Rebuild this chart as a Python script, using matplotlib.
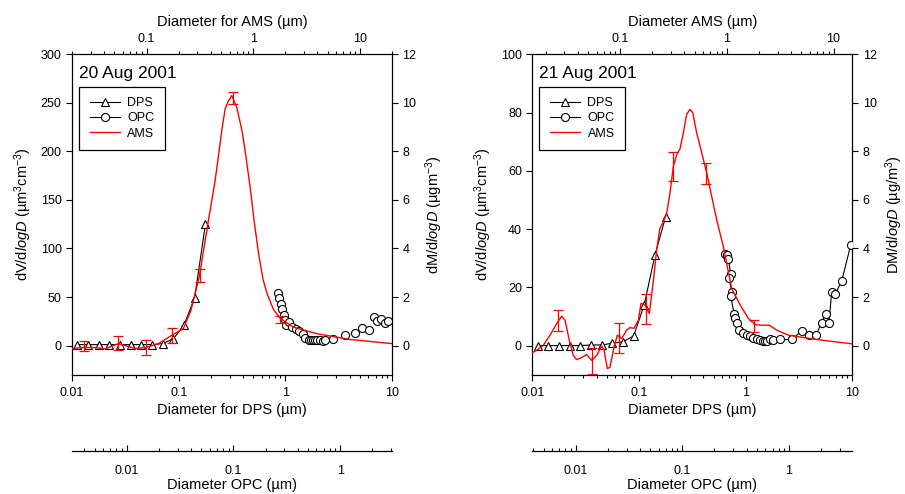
"""Size distributions DPS / OPC / AMS, 20 and 21 Aug 2001"""
import numpy as np
import matplotlib
matplotlib.use("Agg")
import matplotlib.pyplot as plt
from matplotlib.ticker import FuncFormatter, LogLocator, MultipleLocator
from matplotlib.lines import Line2D

plt.rcParams['font.family'] = ['Liberation Sans', 'DejaVu Sans']
plt.rcParams['mathtext.fontset'] = 'custom'
plt.rcParams['mathtext.rm'] = 'Liberation Sans'
plt.rcParams['mathtext.it'] = 'Liberation Sans:italic'

# DPS channels (um) - same for both days
dps_d = [0.0112, 0.0141, 0.0178, 0.0224, 0.0282, 0.0355, 0.0447, 0.0562,
         0.0708, 0.0891, 0.112, 0.141, 0.178]
dps_20 = [1, 1, 1, 1, 1, 1, 1, 1, 2, 7, 21, 49, 125]
dps_21 = [0, 0, 0, 0, 0, 0.2, 0.2, 0.8, 1.3, 3.3, 14, 31, 44.3]

# OPC (um, dV/dlogD)
opc_d_20 = [0.259, 0.268, 0.279, 0.288, 0.299, 0.305, 0.312, 0.335, 0.353, 0.387,
            0.416, 0.448, 0.473, 0.506, 0.530, 0.556, 0.583, 0.614, 0.650, 0.690,
            0.724, 0.855, 1.12, 1.39, 1.62, 1.86, 2.06, 2.21, 2.43, 2.61, 2.79]
opc_20 = [54.5, 49, 43, 38, 32, 26.7, 21, 24, 19, 17.5,
          15, 11.6, 8.2, 5.5, 5.5, 5.5, 5.5, 5.5, 5.5, 4.4,
          6.2, 7.2, 10.6, 13.4, 18, 15.7, 29.4, 25, 27, 23.7, 25]
opc_d_21 = [0.251, 0.264, 0.270, 0.284, 0.274, 0.290, 0.284, 0.305, 0.311, 0.323,
            0.342, 0.373, 0.401, 0.431, 0.462, 0.498, 0.535, 0.566, 0.596, 0.625,
            0.663, 0.703, 0.822, 1.06, 1.31, 1.55, 1.79, 2.02, 2.22, 2.37,
            2.51, 2.70, 3.12, 3.79]
opc_21 = [31.5, 31.1, 29.7, 24.6, 23.1, 18.5, 17.1, 11, 9.5, 7.8,
          5.3, 4.3, 3.8, 3.2, 2.6, 2.3, 1.8, 1.6, 1.5, 1.6,
          2.4, 1.8, 2.1, 2.1, 5.0, 3.8, 3.6, 7.9, 11, 7.9,
          18.5, 17.6, 22.2, 34.6]

# AMS (vacuum aerodynamic um, dM/dlogD ug/m3)
ams_d_20 = [0.020, 0.0255, 0.0329, 0.0408, 0.0543, 0.078, 0.0989, 0.129, 0.172, 0.221,
            0.260, 0.313, 0.380, 0.439, 0.507, 0.545, 0.585, 0.630, 0.701, 0.782,
            0.840, 0.935, 1.02, 1.12, 1.23, 1.34, 1.55, 1.79, 2.38, 3.95,
            8.1, 20.0]
ams_20 = [-0.12, -0.08, -0.08, -0.14, 0.08, -0.12, -0.08, 0.08, 0.42, 0.70,
          1.44, 2.88, 5.16, 6.8, 8.86, 9.76, 10.08, 10.3, 9.8, 8.88,
          8.0, 6.52, 5.12, 3.8, 2.76, 2.16, 1.48, 1.12, 0.76, 0.49,
          0.25, 0.08]
ams_d_21 = [0.0150, 0.0165, 0.0190, 0.0220, 0.0254, 0.0283, 0.0304, 0.0333, 0.0363, 0.0391,
            0.0436, 0.0485, 0.0541, 0.0602, 0.0671, 0.0705, 0.0757, 0.0802, 0.0875, 0.0940,
            0.1033, 0.115, 0.1236, 0.1346, 0.1479, 0.1567, 0.171, 0.1875, 0.2042, 0.2198,
            0.236, 0.2535, 0.273, 0.293, 0.315, 0.339, 0.364, 0.391, 0.420, 0.451,
            0.478, 0.521, 0.581, 0.647, 0.721, 0.803, 0.926, 1.11, 1.33, 1.59,
            1.84, 2.12, 2.50, 2.93, 3.77, 6.02, 9.27, 15.0]
ams_21 = [-0.30, -0.19, 0.01, 0.43, 0.91, 1.21, 1.04, 0.22, -0.40, -0.58,
          -0.49, -0.37, -0.61, -0.40, -0.02, -0.19, -0.95, -0.89, -0.06, 0.43,
          0.29, 0.64, 0.74, 0.71, 1.04, 1.74, 1.67, 1.32, 2.64, 3.96,
          4.84, 5.08, 5.46, 6.29, 7.39, 7.87, 8.11, 8.77, 9.53, 9.73,
          9.60, 8.77, 7.94, 7.12, 6.14, 5.18, 4.08, 2.34, 1.68, 1.12,
          0.86, 0.84, 0.84, 0.64, 0.43, 0.29, 0.18, 0.07]

# AMS error bars
err_d = [0.026, 0.054, 0.098, 0.174, 0.314, 0.64, 1.79]
err_20 = [-0.02, 0.11, -0.06, 0.42, 2.88, 10.21, 1.08]
errh_20 = [0.21, 0.28, 0.31, 0.31, 0.27, 0.25, 0.14]
err_21 = [1.04, -0.62, 0.31, 1.49, 7.38, 7.10, 0.82]
errh_21 = [0.44, 0.54, 0.62, 0.62, 0.59, 0.44, 0.25]

fmt = FuncFormatter(lambda v, p: '%g' % v)
TICK = 9
LAB = 10.5


def log_ticks(axis):
    axis.set_major_locator(LogLocator(base=10))
    axis.set_minor_locator(LogLocator(base=10, subs=np.arange(2, 10)))
    axis.set_major_formatter(fmt)
    axis.set_minor_formatter(FuncFormatter(lambda v, p: ''))


def panel(rect, title, ylim, ystep, dps_v, opc_d, opc_v, opc_ls, ams_d, ams_v, e_v, e_h,
          ams_lim, opc_lim, top_lab, bot_lab, right_lab):
    ax = fig.add_axes(rect)
    ax.set_xscale('log')
    ax.set_xlim(0.01, 10)
    ax.set_ylim(*ylim)
    ax.yaxis.set_major_locator(MultipleLocator(ystep))
    log_ticks(ax.xaxis)
    ax.tick_params(which='both', direction='out', labelsize=TICK, width=0.8)
    ax.tick_params(which='major', length=4)
    ax.tick_params(which='minor', length=2.5)
    ax.tick_params(axis='x', pad=5)
    ax.tick_params(top=False, right=False)
    for s in ax.spines.values():
        s.set_linewidth(0.9)
    ax.plot(dps_d, dps_v, color='black', lw=0.8, marker='^', ms=6,
            mfc='white', mec='black', mew=0.8)
    ax.set_xlabel(bot_lab, fontsize=LAB, labelpad=3)
    ax.set_ylabel(r'dV/d$\mathit{logD}$ (µm$^3$cm$^{-3}$)', fontsize=LAB, labelpad=5)

    # OPC axis (drawn below)
    ax_o = fig.add_axes(rect, sharey=ax)
    ax_o.patch.set_visible(False)
    ax_o.set_xscale('log')
    ax_o.set_xlim(*opc_lim)
    log_ticks(ax_o.xaxis)
    for k in ['top', 'left', 'right']:
        ax_o.spines[k].set_visible(False)
    ax_o.spines['bottom'].set_position(('outward', 55))
    ax_o.spines['bottom'].set_linewidth(0.9)
    ax_o.tick_params(axis='y', left=False, labelleft=False)
    ax_o.tick_params(axis='x', which='both', direction='in', labelsize=TICK, width=0.8, pad=10)
    ax_o.tick_params(axis='x', which='major', length=4)
    ax_o.tick_params(axis='x', which='minor', length=2.5)
    ax_o.plot(opc_d, opc_v, color='black', lw=0.8, ls=opc_ls, marker='o', ms=5.8,
              mfc='white', mec='black', mew=0.8)
    ax_o.set_xlabel('Diameter OPC (µm)', fontsize=LAB, labelpad=1)

    # AMS axis (top / right)
    ax_a = fig.add_axes(rect)
    ax_a.patch.set_visible(False)
    for s in ax_a.spines.values():
        s.set_visible(False)
    ax_a.set_xscale('log')
    ax_a.set_xlim(*ams_lim)
    ax_a.set_ylim(-1.2, 12)
    log_ticks(ax_a.xaxis)
    ax_a.yaxis.set_major_locator(MultipleLocator(2))
    ax_a.xaxis.tick_top()
    ax_a.xaxis.set_label_position('top')
    ax_a.yaxis.tick_right()
    ax_a.yaxis.set_label_position('right')
    ax_a.tick_params(which='both', direction='out', labelsize=TICK, width=0.8)
    ax_a.tick_params(which='major', length=4)
    ax_a.tick_params(which='minor', length=2.5)
    ax_a.tick_params(axis='x', pad=3)
    ax_a.plot(ams_d, ams_v, color='red', lw=1.0)
    ax_a.errorbar(err_d, e_v, yerr=e_h, fmt='none', ecolor='red', elinewidth=0.9,
                  capsize=3.6, capthick=0.9)
    ax_a.set_xlabel(top_lab, fontsize=LAB, labelpad=5)
    ax_a.set_ylabel(right_lab, fontsize=LAB, labelpad=5)
    ax_a.text(0.022, 0.965, title, transform=ax_a.transAxes, fontsize=12.5,
              ha='left', va='top')

    handles = [Line2D([], [], color='black', lw=0.8, marker='^', ms=6, mfc='white', mew=0.8),
               Line2D([], [], color='black', lw=0.8, marker='o', ms=5.8, mfc='white', mew=0.8),
               Line2D([], [], color='red', lw=1.0)]
    leg = ax_a.legend(handles, ['DPS', 'OPC', 'AMS'], loc='upper left',
                      bbox_to_anchor=(0.022, 0.899), borderaxespad=0, fontsize=9,
                      fancybox=False, framealpha=1, edgecolor='black',
                      handlelength=2.4, labelspacing=0.25, borderpad=0.85, handletextpad=0.6)
    leg.get_frame().set_linewidth(0.9)
    return ax


fig = plt.figure(figsize=(9.05, 4.94), dpi=100)

panel([0.0796, 0.2415, 0.3536, 0.6486], '20 Aug 2001', (-30, 300), 50, dps_20,
      opc_d_20, opc_20, 'none', ams_d_20, ams_20, err_20, errh_20,
      (0.02, 20), (0.00307, 3.07), 'Diameter for AMS (µm)', 'Diameter for DPS (µm)',
      r'dM/d$\mathit{logD}$ (µgm$^{-3}$)')

panel([0.5882, 0.2415, 0.3536, 0.6486], '21 Aug 2001', (-10, 100), 20, dps_21,
      opc_d_21, opc_21, '-', ams_d_21, ams_21, err_21, errh_21,
      (0.015, 15), (0.00392, 3.92), 'Diameter AMS (µm)', 'Diameter DPS (µm)',
      r'DM/d$\mathit{logD}$ (µg/m$^3$)')

fig.savefig('out.png', dpi=100)
